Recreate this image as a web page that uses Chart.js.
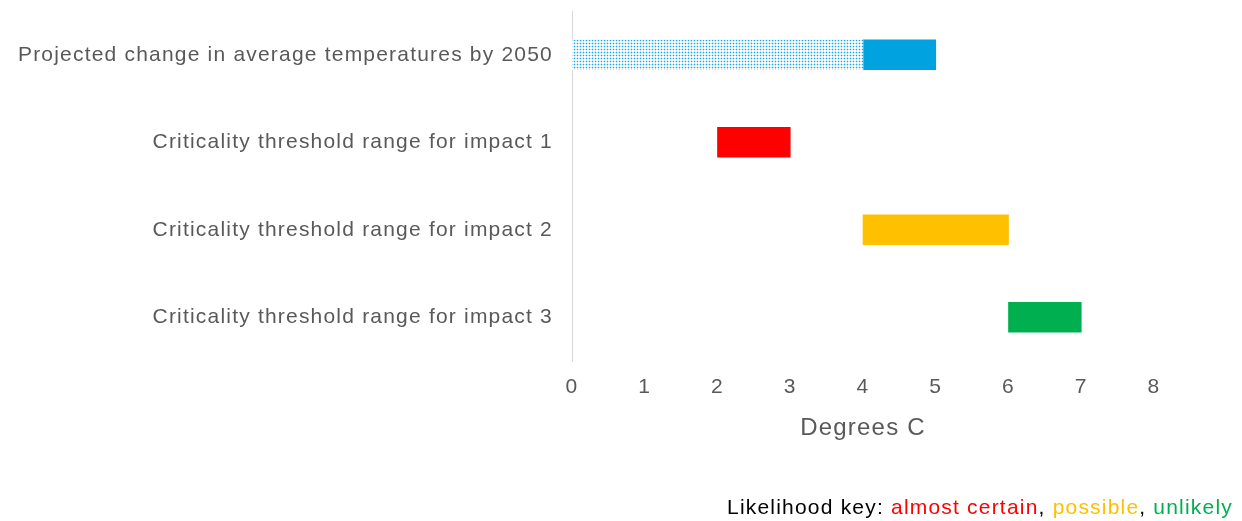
<!DOCTYPE html>
<html>
<head>
<meta charset="utf-8">
<script src="https://cdn.jsdelivr.net/npm/chart.js@4"></script>
<style>
	body { margin: 0; background: #fff; }
	#wrap { position: relative; width: 1242px; height: 521px; }
	#key {
		position: absolute; right: 9px; top: 495px;
		font: 21px "Liberation Sans", Arial, sans-serif; color: #000;
		letter-spacing: 1.2px; white-space: nowrap;
	}
</style>
</head>
<body>
<div id="wrap">
	<canvas id="c" width="1242" height="521"></canvas>
	<div id="key">Likelihood key: <span style="color:#ff0000">almost certain</span>, <span style="color:#ffc000">possible</span>, <span style="color:#00b050">unlikely</span></div>
</div>
<script>
var categories = [
	"Projected change in average temperatures by 2050",
	"Criticality threshold range for impact 1",
	"Criticality threshold range for impact 2",
	"Criticality threshold range for impact 3",
];
// [start, end] in degrees C, null where the series has no bar
var projectedLow  = [[0, 4], null, null, null];
var projectedHigh = [[4, 5], null, null, null];
var impactRed     = [null, [2, 3], null, null];
var impactAmber   = [null, null, [4, 6], null];
var impactGreen   = [null, null, null, [6, 7]];
var xTicks = [0, 1, 2, 3, 4, 5, 6, 7, 8];

var FONT = "'Liberation Sans', Arial, sans-serif";
var GREY = "#595959";

// dotted fill for the lower part of the projected range
function makeDots() {
	var t = document.createElement("canvas");
	t.width = 3; t.height = 3;
	var g = t.getContext("2d");
	g.fillStyle = "#ffffff";
	g.fillRect(0, 0, 3, 3);
	g.fillStyle = "#c4e8f8";
	g.fillRect(0, 1, 3, 1);
	g.fillRect(1, 0, 1, 3);
	g.fillStyle = "#19a8e3";
	g.fillRect(1, 1, 1, 1);
	return g.createPattern(t, "repeat");
}

// wider text spacing, like the original
var spacing = {
	id: "spacing",
	beforeLayout: function(chart) { chart.ctx.letterSpacing = "1.2px"; },
	beforeDraw: function(chart) { chart.ctx.letterSpacing = "1.2px"; },
};

var ctx = document.getElementById("c").getContext("2d");

function ds(data, color) {
	return {
		data: data,
		backgroundColor: color,
		borderWidth: 0,
		grouped: false,
		barThickness: 30,
	};
}

new Chart(ctx, {
	type: "bar",
	data: {
		labels: categories,
		datasets: [
			ds(projectedLow, makeDots()),
			ds(projectedHigh, "#00a3e0"),
			ds(impactRed, "#ff0000"),
			ds(impactAmber, "#ffc000"),
			ds(impactGreen, "#00b050"),
		]
	},
	plugins: [spacing],
	options: {
		indexAxis: "y",
		responsive: false,
		animation: false,
		layout: { padding: { top: 11, right: 88, bottom: 0, left: 0 } },
		plugins: {
			legend: { display: false },
			tooltip: { enabled: false },
		},
		scales: {
			x: {
				min: 0,
				max: 8,
				afterBuildTicks: function(s) {
					s.ticks = xTicks.map(function(v) { return { value: v }; });
				},
				afterFit: function(s) {
					s.height = 160;
					s.paddingLeft = 0;
					s.paddingRight = 0;
				},
				grid: { display: false, drawTicks: false },
				border: { display: false },
				ticks: { color: GREY, padding: 14, font: { family: FONT, size: 21 } },
				title: {
					display: true,
					text: "Degrees C",
					color: GREY,
					font: { family: FONT, size: 24 },
					padding: { top: 0, bottom: 78 },
				},
			},
			y: {
				afterFit: function(s) {
					s.width = 572;
					s.paddingTop = 0;
					s.paddingBottom = 0;
				},
				grid: { display: false, drawTicks: false },
				border: { display: true, color: "#d9d9d9", width: 1 },
				ticks: { color: GREY, padding: 19, font: { family: FONT, size: 21 } },
			}
		}
	}
});
</script>
</body>
</html>
